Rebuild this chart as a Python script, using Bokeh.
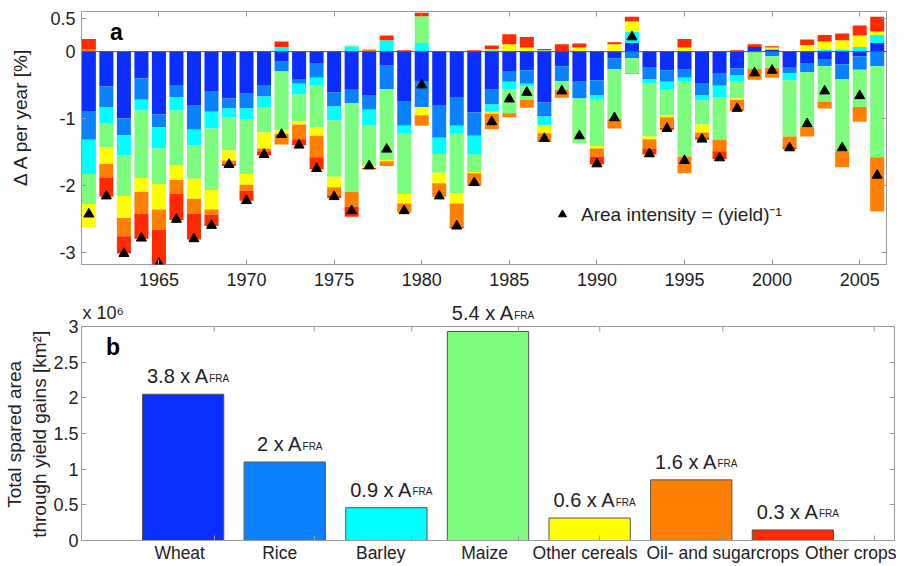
import numpy as np
from bokeh.plotting import figure
from bokeh.models import (FixedTicker, LinearAxis, Range1d, Span, Label,
                          Legend, LegendItem)
from bokeh.layouts import column
from bokeh.embed import file_html
from bokeh.resources import INLINE

FONT = "Liberation Sans"
TXT = "#222222"
GRAY = "#9a9a9a"
NB = "\u00a0"

# ---------------- data: panel a (change in area per year, %) ----------------
years = list(range(1961, 2007))
wheat = [-0.89, -0.52, -1.00, -0.40, -0.94, -0.51, -0.80, -0.59, -0.70, -0.63,
         -0.51, -0.15, -0.41, -0.17, -0.61, -0.56, -0.66, -0.21, -0.74, -0.44,
         -0.81, -0.68, -0.91, -0.56, -0.30, -0.28, -0.76, -0.22, -0.45, -0.43,
         -0.10, 0.13, -0.23, -0.28, -0.26, -0.47, -0.33, -0.25, 0.07, 0.03,
         -0.24, -0.17, -0.11, -0.19, -0.07, 0.13]
rice = [-0.43, -0.31, -0.25, -0.32, -0.19, -0.17, -0.37, -0.31, -0.15, -0.22,
        -0.16, -0.14, -0.07, -0.22, -0.21, -0.21, -0.21, -0.35, -0.37, -0.39,
        -0.48, -0.43, -0.35, -0.23, -0.15, -0.20, -0.21, -0.22, -0.25, -0.22,
        -0.16, -0.10, -0.18, -0.17, -0.13, -0.18, -0.18, -0.10, 0.00, -0.07,
        -0.08, -0.14, -0.11, -0.22, -0.20, -0.22]
barley = [-0.51, -0.25, -0.30, -0.16, -0.32, -0.20, -0.23, -0.25, -0.13, -0.17,
          -0.17, 0.07, -0.16, -0.11, -0.21, 0.08, -0.24, 0.17, -0.12, 0.13,
          -0.24, -0.12, -0.28, -0.11, -0.11, -0.04, -0.13, 0.00, 0.00, -0.07,
          0.00, 0.17, -0.07, -0.11, -0.06, -0.08, -0.17, -0.09, 0.00, 0.00,
          -0.11, 0.00, 0.03, 0.03, 0.07, 0.12]
maize = [-0.45, -0.35, -0.61, -1.01, -0.53, -0.82, -0.50, -0.92, -0.50, -0.81,
         -0.37, -0.89, -0.40, -0.63, -0.84, -1.33, -0.60, -1.06, -0.90, 0.40,
         -0.28, -0.89, -0.26, 0.04, -0.36, -0.20, 0.02, -0.13, -0.67, -0.69,
         -0.75, -0.22, -0.79, -0.40, -1.12, -0.36, -0.64, -0.26, -0.26, -0.17,
         -0.84, -0.82, -0.53, -1.08, -0.56, -1.36]
other_cereals = [-0.35, -0.25, -0.33, -0.21, -0.38, -0.22, -0.30, -0.29, -0.15, -0.16,
                 -0.24, -0.05, -0.05, -0.13, -0.16, 0.02, -0.03, -0.02, -0.14, -0.12,
                 -0.16, -0.15, -0.02, -0.03, 0.11, 0.06, -0.12, 0.00, 0.06, -0.04,
                 0.11, 0.15, -0.04, -0.02, 0.06, -0.12, 0.00, -0.02, 0.00, 0.03,
                 0.00, 0.10, 0.12, 0.14, 0.17, 0.05]
oil_sugar = [0.03, -0.21, -0.27, -0.32, -0.30, -0.21, -0.23, -0.08, -0.05, -0.09,
             -0.04, -0.16, -0.22, -0.32, -0.12, -0.22, 0.03, -0.07, -0.14, -0.16,
             -0.20, -0.35, -0.19, -0.23, -0.06, -0.12, -0.13, -0.12, 0.00, -0.12,
             -0.14, -0.01, -0.14, -0.16, -0.25, -0.07, -0.17, -0.17, -0.16, -0.15,
             -0.16, -0.14, -0.10, -0.24, -0.22, -0.81]
other_crops = [0.16, -0.28, -0.26, -0.38, -0.54, -0.39, -0.38, -0.17, -0.03, -0.15,
               -0.06, 0.08, -0.09, -0.18, -0.04, -0.15, -0.02, 0.07, 0.02, 0.05,
               0.01, -0.02, 0.02, 0.05, 0.15, 0.16, 0.02, 0.11, 0.06, -0.12,
               0.03, 0.07, -0.09, -0.03, 0.13, -0.04, -0.12, 0.02, 0.04, 0.02,
               -0.03, 0.08, 0.10, 0.10, 0.15, 0.22]
area_intensity = [-2.43, -2.16, -3.02, -2.79, -3.17, -2.51, -2.80, -2.60, -1.69, -2.23,
                  -1.54, -1.24, -1.40, -1.75, -2.17, -2.38, -1.71, -1.46, -2.38, -0.50,
                  -2.16, -2.61, -1.96, -1.05, -0.71, -0.61, -1.30, -0.59, -1.26, -1.68,
                  -0.99, 0.22, -1.53, -1.15, -1.63, -1.31, -1.59, -0.85, -0.32, -0.28,
                  -1.44, -1.08, -0.59, -1.44, -0.66, -1.85]

# ---------------- data: panel b (total spared area, 10^6 km2) ----------------
crops = ["Wheat", "Rice", "Barley", "Maize", "Other cereals",
         "Oil- and sugarcrops", "Other crops"]
spared = [2.05, 1.10, 0.46, 2.93, 0.315, 0.85, 0.148]
ratio_fra = ["3.8", "2", "0.9", "5.4", "0.6", "1.6", "0.3"]
colors = ["#0a2eff", "#0a82ff", "#00ffff", "#7dfc7d", "#ffff00", "#ff8000", "#ff2a00"]
yticks_a = [-3, -2, -1, 0, 0.5]
xticks_a = [1965, 1970, 1975, 1980, 1985, 1990, 1995, 2000, 2005]
yticks_b = [0, 0.5, 1, 1.5, 2, 2.5, 3]
xlabel_pos_b = [0.966, 1.95, 2.945, 3.966, 4.955, 6.31, 7.58]
xtickmark_pos_b = [1.306, 2.29, 3.25, 4.30, 5.10, 6.31, 7.80]
YMAX_B = 3


def style_axis(ax, size="18px"):
    ax.axis_line_color = None
    ax.major_tick_line_color = GRAY
    ax.minor_tick_line_color = GRAY
    ax.major_tick_in = 5
    ax.major_tick_out = 0
    ax.minor_tick_in = 0
    ax.minor_tick_out = 0
    ax.major_label_text_font = FONT
    ax.major_label_text_font_size = size
    ax.major_label_text_color = TXT
    ax.axis_label_text_font = FONT
    ax.axis_label_text_font_size = "19px"
    ax.axis_label_text_font_style = "normal"
    ax.axis_label_text_color = TXT


def mirror(p, positions, side):
    # tick marks only (no labels): ticks given as minor ticks
    ax = LinearAxis(ticker=FixedTicker(ticks=[], minor_ticks=positions))
    style_axis(ax)
    ax.minor_tick_in = 5
    ax.major_label_standoff = 0
    p.add_layout(ax, side)
    return ax


# ================= panel a =================
pa = figure(width=888, height=296, x_range=Range1d(1960.58, 2006.53),
            y_range=Range1d(-3.184, 0.6), output_backend="svg",
            toolbar_location=None, min_border_left=81, min_border_right=2,
            min_border_top=11, min_border_bottom=32)
pa.grid.visible = False
pa.outline_line_color = GRAY

vals = np.array([wheat, rice, barley, maize, other_cereals, oil_sugar, other_crops])
pos = np.clip(vals, 0, None)
neg = np.clip(vals, None, 0)
pos_top = np.cumsum(pos, axis=0)
pos_bot = pos_top - pos
neg_bot = np.cumsum(neg, axis=0)
neg_top = neg_bot - neg
for k in range(vals.shape[0]):
    pa.vbar(x=years, bottom=pos_bot[k], top=pos_top[k], width=0.8,
            fill_color=colors[k], line_color=None)
    pa.vbar(x=years, bottom=neg_bot[k], top=neg_top[k], width=0.8,
            fill_color=colors[k], line_color=None)

pa.add_layout(Span(location=0, dimension="width", line_color="#555555", line_width=1))

tri = pa.scatter(x=years, y=area_intensity, marker="triangle", size=10,
                 fill_color="black", line_color="black")

pa.xaxis.ticker = FixedTicker(ticks=xticks_a)
pa.yaxis.ticker = FixedTicker(ticks=yticks_a)
for ax in pa.xaxis + pa.yaxis:
    style_axis(ax)
pa.xaxis.major_label_standoff = 8
pa.yaxis.major_label_standoff = 6
pa.yaxis.major_label_overrides = {t: f"{t:g}" for t in yticks_a}
pa.xaxis.major_label_overrides = {t: str(t) for t in xticks_a}
pa.yaxis.axis_label = NB * 8 + "\u0394 A per year [%]"
pa.yaxis.axis_label_standoff = 16
mirror(pa, xticks_a, "above")
mirror(pa, yticks_a, "right")

leg = Legend(items=[LegendItem(label="Area intensity = (yield)\u207b\u00b9", renderers=[tri])],
             location=(471, 37), padding=0, margin=0, border_line_color=None,
             background_fill_alpha=0, label_text_font=FONT, label_text_font_size="19px",
             label_text_color=TXT, glyph_width=20, glyph_height=20, label_standoff=9)
pa.add_layout(leg)

pa.add_layout(Label(x=1962.2, y=0.29, text="a", text_font=FONT, text_font_size="23px",
                    text_font_style="bold", text_baseline="middle", text_color="black"))

# ================= panel b =================
pb = figure(width=896, height=270, x_range=Range1d(0, 8), y_range=Range1d(0, 3.4206),
            output_backend="svg", toolbar_location=None, min_border_left=81,
            min_border_right=1, min_border_top=0, min_border_bottom=26)
pb.grid.visible = False
pb.outline_line_color = None
xs_b = list(range(1, len(crops) + 1))
pb.vbar(x=xs_b, top=spared, width=0.8, fill_color=colors, line_color="#555555",
        line_width=1)

pb.xaxis.ticker = FixedTicker(ticks=xlabel_pos_b, minor_ticks=xtickmark_pos_b)
pb.yaxis.ticker = FixedTicker(ticks=yticks_b)
for ax in pb.xaxis + pb.yaxis:
    style_axis(ax)
pb.xaxis.major_label_text_font_size = "17.5px"
pb.xaxis.axis_line_color = GRAY
pb.yaxis.axis_line_color = GRAY
pb.yaxis.bounds = (0, YMAX_B)
pb.xaxis.major_tick_in = 0
pb.xaxis.minor_tick_in = 5
pb.xaxis.major_label_standoff = 2
pb.yaxis.major_label_standoff = 3
pb.xaxis.major_label_overrides = {p_: name for p_, name in zip(xlabel_pos_b, crops)}
pb.yaxis.major_label_overrides = {t: f"{t:g}" for t in yticks_b}
pb.yaxis.axis_label = "Total spared area" + NB * 6 + "\nthrough yield gains [km\u00b2]" + NB * 6
pb.yaxis.axis_label_standoff = 0
rb = mirror(pb, yticks_b, "right")
rb.bounds = (0, YMAX_B)
rb.axis_line_color = GRAY
pb.add_layout(Span(location=YMAX_B, dimension="width", line_color=GRAY, line_width=1))
pb.segment(x0=xtickmark_pos_b, y0=[YMAX_B] * len(xtickmark_pos_b),
           x1=xtickmark_pos_b, y1=[YMAX_B - 0.07] * len(xtickmark_pos_b),
           line_color=GRAY, line_width=1)

pb.add_layout(Label(x=0, y=YMAX_B, text="x 10\u2076", text_font=FONT, text_font_size="18px",
                    text_color=TXT, text_baseline="bottom", x_offset=1, y_offset=4))
pb.add_layout(Label(x=0.24, y=2.71, text="b", text_font=FONT, text_font_size="23px",
                    text_font_style="bold", text_baseline="middle", text_color="black"))

# annotation "N x A_FRA" above each bar, centred as a whole
W = {"0": .556, "1": .556, "2": .556, "3": .556, "4": .556, "5": .556, "6": .556,
     "7": .556, "8": .556, "9": .556, ".": .278, " ": .278, "x": .5, "A": .667}
for xb, v, r in zip(xs_b, spared, ratio_fra):
    main = f"{r} x A"
    w_main = sum(W[c] for c in main) * 20
    w_sub = 2.0 * 10
    brk = w_main - (w_main + w_sub) / 2 + 5
    pb.add_layout(Label(x=xb, y=v, text=main, text_font=FONT, text_font_size="20px",
                        text_color=TXT, text_align="right", text_baseline="alphabetic",
                        x_offset=brk, y_offset=18))
    pb.add_layout(Label(x=xb, y=v, text="FRA", text_font=FONT, text_font_size="10px",
                        text_color=TXT, text_align="left", text_baseline="alphabetic",
                        x_offset=brk, y_offset=16))

layout = column(pa, pb, spacing=0)
open("out.html", "w").write(file_html(layout, INLINE))
